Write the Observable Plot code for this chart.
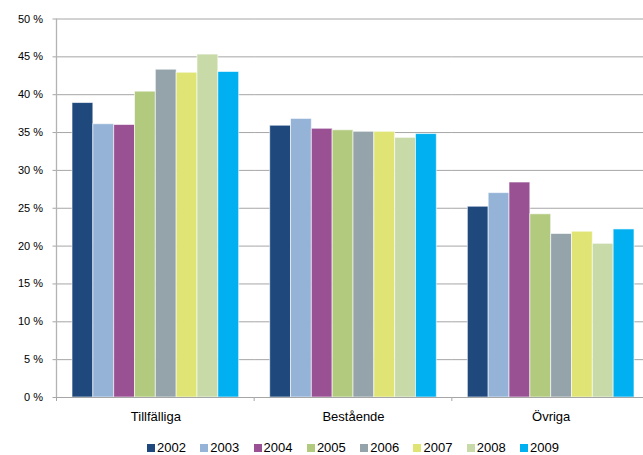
<!DOCTYPE html>
<html>
<head>
<meta charset="utf-8">
<script src="https://cdn.jsdelivr.net/npm/d3@7"></script>
<script src="https://cdn.jsdelivr.net/npm/@observablehq/plot@0.6"></script>
<style>
  html, body { margin: 0; padding: 0; background: #fff; }
  #chart { position: relative; width: 643px; }
  .legend { display: flex; height: 23px; padding-left: 147px; box-sizing: border-box;
            font-family: "Liberation Sans", Arial, sans-serif; font-size: 13px; color: #000; }
  .legend .item { display: flex; align-items: center; width: 53.3px; height: 11px; margin-top: 10px; }
  .legend .sw { width: 8px; height: 8px; margin-right: 2px; flex: none; }
  .legend span.t { line-height: 11px; white-space: nowrap; }
</style>
</head>
<body>
<div id="chart"></div>
<script>
// Categories and years
const groups = ["Tillfälliga", "Bestående", "Övriga"];
const years = ["2002", "2003", "2004", "2005", "2006", "2007", "2008", "2009"];

// Share (%) per year, one array per category
const tillfalliga = [38.9, 36.1, 36.0, 40.4, 43.3, 42.9, 45.3, 43.0];
const bestaende   = [35.9, 36.8, 35.5, 35.3, 35.1, 35.1, 34.3, 34.8];
const ovriga      = [25.2, 27.0, 28.4, 24.2, 21.6, 21.9, 20.3, 22.2];

// Y-axis ticks
const yTicks = [0, 5, 10, 15, 20, 25, 30, 35, 40, 45, 50];

const colors = ["#1f497d", "#95b3d7", "#9a5194", "#b1ca7d", "#95a4ab", "#dfe475", "#c7daa8", "#00b0f0"];

const series = [tillfalliga, bestaende, ovriga];
const data = groups.flatMap((g, gi) =>
  years.map((yr, i) => ({group: g, year: yr, value: series[gi][i]})));

const W = 643, H = 432;
const left = 56.5, right = 649.5;

const chart = Plot.plot({
  width: W,
  height: H,
  marginLeft: left,
  marginRight: W - right,
  marginTop: 18.5,
  marginBottom: 35,
  style: {fontFamily: "'Liberation Sans', Arial, sans-serif", fontSize: "11px", color: "#000", overflow: "visible", background: "#fff"},
  fx: {domain: groups, range: [left, right], padding: 0, round: false, label: null},
  x: {domain: years, paddingInner: 0, paddingOuter: 0.745, round: false, axis: null},
  y: {domain: [0, 50], label: null},
  color: {domain: years, range: colors},
  marks: [
    Plot.ruleY(yTicks.slice(1), {stroke: "#a6a6a6", strokeWidth: 1}),
    Plot.barY(data, {fx: "group", x: "year", y: "value", fill: "year",
                     stroke: "#ffffff", strokeOpacity: 0.6, strokeWidth: 1}),
    Plot.ruleY([0], {stroke: "#a6a6a6", strokeWidth: 1}),
    Plot.axisY({ticks: yTicks, tickFormat: d => `${d} %`, tickSize: 4, tickPadding: 10,
                stroke: "#a6a6a6", label: null}),
    Plot.axisFx({anchor: "bottom", tickSize: 0, tickPadding: 14.5, fontSize: 13, label: null})
  ]
});

// Vertical axis line and category separator ticks, placed with the plot's own scales
const fx = chart.scale("fx");
const y = chart.scale("y");
const svg = d3.select(chart);
const y0 = y.apply(0), yTop = y.apply(50);
const x0 = fx.apply(groups[0]);
svg.append("line")
  .attr("x1", x0).attr("x2", x0).attr("y1", yTop).attr("y2", y0)
  .attr("stroke", "#b3b3b3").attr("stroke-width", 1.3);
const bounds = groups.map(g => fx.apply(g)).concat([fx.apply(groups[groups.length - 1]) + fx.bandwidth]);
bounds.forEach(bx => {
  svg.append("line")
    .attr("x1", bx).attr("x2", bx).attr("y1", y0).attr("y2", y0 + 4)
    .attr("stroke", "#a6a6a6");
});

const host = document.getElementById("chart");
host.appendChild(chart);

// Legend
const legend = document.createElement("div");
legend.className = "legend";
years.forEach((yr, i) => {
  const item = document.createElement("div");
  item.className = "item";
  const sw = document.createElement("div");
  sw.className = "sw";
  sw.style.background = colors[i];
  const t = document.createElement("span");
  t.className = "t";
  t.textContent = yr;
  item.appendChild(sw);
  item.appendChild(t);
  legend.appendChild(item);
});
host.appendChild(legend);
</script>
</body>
</html>
